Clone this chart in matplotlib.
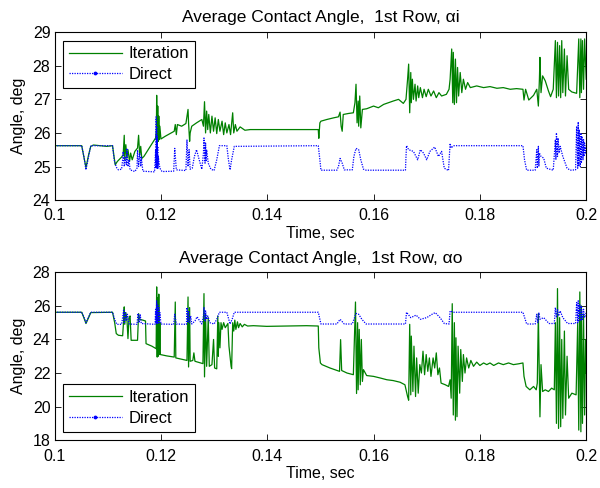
import matplotlib
matplotlib.use("Agg")
import matplotlib.pyplot as plt
from matplotlib.lines import Line2D

plt.rcParams['font.family'] = ['Liberation Sans', 'DejaVu Sans']

# ---------------- data: top panel (alpha i) ----------------
t_top_iter = [0.1000, 0.1051, 0.1055, 0.1059, 0.1064, 0.1068, 0.1073, 0.1086, 0.1098, 0.1109,
              0.1114, 0.1118, 0.1126, 0.1129, 0.1131, 0.1132, 0.1134, 0.1136, 0.1138, 0.1141,
              0.1143, 0.1146, 0.1151, 0.1156, 0.1158, 0.1160, 0.1162, 0.1164, 0.1168, 0.1180,
              0.1190, 0.11915, 0.1192, 0.1193, 0.1194, 0.1195, 0.1196, 0.1197, 0.1198, 0.1200,
              0.1208, 0.1217, 0.1225, 0.1227, 0.1229, 0.1231, 0.1239, 0.1247, 0.1251, 0.1252,
              0.1254, 0.1255, 0.1258, 0.1267, 0.1277, 0.1280, 0.1282, 0.1284, 0.1286, 0.1288,
              0.1290, 0.1293, 0.1296, 0.1299, 0.1302, 0.1305, 0.1308, 0.1311, 0.1315, 0.1318,
              0.1321, 0.1324, 0.1328, 0.1331, 0.1335, 0.1337, 0.1340, 0.1343, 0.1349, 0.1358,
              0.1368, 0.1496, 0.1497, 0.1499, 0.1501, 0.1512, 0.1525, 0.1534, 0.1537, 0.1539,
              0.1541, 0.1543, 0.1553, 0.1562, 0.1565, 0.1567, 0.1569, 0.1571, 0.1572, 0.1574,
              0.1576, 0.1579, 0.1587, 0.1600, 0.1609, 0.1619, 0.1628, 0.1637, 0.1647, 0.1656,
              0.1661, 0.1664, 0.1666, 0.1668, 0.1670, 0.1671, 0.1673, 0.1675, 0.1678, 0.1680,
              0.1683, 0.1685, 0.1688, 0.1692, 0.1695, 0.1699, 0.1703, 0.1708, 0.1713, 0.1718,
              0.1723, 0.1728, 0.1737, 0.1742, 0.1744, 0.1747, 0.1749, 0.1750, 0.1752, 0.1754,
              0.1756, 0.1758, 0.1760, 0.1763, 0.1766, 0.1769, 0.1773, 0.1777, 0.1782, 0.1794,
              0.1807, 0.1819, 0.1832, 0.1844, 0.1857, 0.1869, 0.1881, 0.1883, 0.1886, 0.1892,
              0.1901, 0.1907, 0.1910, 0.1912, 0.1913, 0.1915, 0.1918, 0.1923, 0.1929, 0.1933,
              0.1938, 0.1942, 0.1944, 0.1946, 0.1948, 0.1950, 0.1952, 0.1954, 0.1956, 0.1959,
              0.1961, 0.1964, 0.1967, 0.1973, 0.1982, 0.1986, 0.1988, 0.1990, 0.1991, 0.1993,
              0.1995, 0.1997, 0.1999, 0.2000]
v_top_iter = [25.62, 25.62, 25.30, 24.97, 25.35, 25.60, 25.64, 25.62, 25.60, 25.62,
              25.05, 25.15, 25.28, 25.35, 25.93, 25.20, 25.65, 25.25, 25.50, 25.15,
              25.40, 25.20, 25.45, 25.55, 25.93, 25.35, 25.60, 25.24, 25.30, 25.60,
              25.85, 26.10, 27.12, 25.70, 26.80, 25.75, 26.50, 25.80, 26.20, 25.82,
              25.90, 25.98, 26.05, 26.25, 25.95, 26.25, 26.20, 26.28, 26.70, 26.30,
              25.75, 26.00, 26.20, 26.30, 26.40, 26.20, 26.93, 26.00, 26.65, 26.10,
              26.55, 26.00, 26.50, 26.05, 26.45, 25.98, 26.40, 26.05, 26.35, 25.95,
              26.30, 26.00, 26.25, 25.95, 26.60, 26.00, 26.25, 26.05, 26.18, 26.08,
              26.10, 26.10, 25.84, 26.30, 26.35, 26.40, 26.45, 26.48, 26.62, 26.20,
              26.05, 26.55, 26.58, 26.60, 26.90, 27.45, 26.30, 26.95, 26.20, 27.10,
              26.15, 26.70, 26.72, 26.80, 26.75, 26.85, 26.90, 26.95, 27.00, 26.88,
              27.00, 27.60, 28.05, 26.60, 27.80, 26.90, 27.60, 27.00, 27.45, 26.95,
              27.40, 27.05, 27.35, 27.05, 27.30, 27.08, 27.30, 27.10, 27.25, 27.05,
              27.20, 27.10, 27.15, 27.30, 27.60, 28.50, 26.90, 28.40, 26.85, 28.20,
              26.90, 27.95, 27.10, 27.80, 27.20, 27.60, 27.30, 27.50, 27.35, 27.40,
              27.35, 27.38, 27.33, 27.35, 27.30, 27.32, 27.30, 26.98, 27.30, 26.98,
              27.12, 27.30, 26.80, 27.60, 28.25, 27.20, 27.70, 27.55, 27.25, 27.08,
              27.30, 28.75, 27.05, 28.70, 27.10, 28.60, 27.05, 28.75, 27.20, 28.50,
              27.10, 28.30, 27.30, 27.22, 27.18, 28.80, 27.05, 28.80, 27.20, 28.75,
              27.30, 28.80, 28.00, 27.60]

t_top_dir = [0.1000, 0.1051, 0.1055, 0.1059, 0.1064, 0.1068, 0.1109, 0.1112, 0.1116, 0.1120,
             0.1126, 0.1128, 0.1129, 0.1131, 0.1133, 0.1135, 0.1136, 0.1138, 0.1140, 0.1142,
             0.1151, 0.1155, 0.1156, 0.1158, 0.1160, 0.1162, 0.1163, 0.1166, 0.1188, 0.1190,
             0.11905, 0.1191, 0.11915, 0.1192, 0.11925, 0.1193, 0.11935, 0.1194, 0.11945, 0.1195,
             0.1198, 0.1202, 0.1224, 0.1226, 0.1229, 0.1247, 0.1249, 0.1251, 0.1253, 0.1255,
             0.1259, 0.1263, 0.1267, 0.1272, 0.1277, 0.1280, 0.1281, 0.1283, 0.1284, 0.1285,
             0.1286, 0.1289, 0.1294, 0.1300, 0.1305, 0.1310, 0.1324, 0.1327, 0.1330, 0.1333,
             0.1338, 0.1496, 0.1499, 0.1501, 0.1531, 0.1534, 0.1537, 0.1541, 0.1545, 0.1560,
             0.1563, 0.1567, 0.1572, 0.1576, 0.1581, 0.1586, 0.1660, 0.1661, 0.1662, 0.1666,
             0.1675, 0.1683, 0.1688, 0.1694, 0.1700, 0.1706, 0.1715, 0.1722, 0.1728, 0.1733,
             0.1741, 0.1744, 0.1746, 0.1750, 0.1881, 0.1884, 0.1888, 0.1904, 0.1907, 0.1908,
             0.1910, 0.1911, 0.1912, 0.1915, 0.1920, 0.1925, 0.1938, 0.1942, 0.1943, 0.1944,
             0.1946, 0.1947, 0.1949, 0.1951, 0.1956, 0.1964, 0.1970, 0.1980, 0.1982, 0.1984,
             0.1985, 0.1986, 0.1987, 0.1989, 0.1990, 0.1991, 0.1992, 0.1994, 0.1995, 0.1996,
             0.1997, 0.1999, 0.2000]
v_top_dir = [25.62, 25.62, 25.30, 24.90, 25.30, 25.62, 25.62, 25.20, 24.98, 24.90,
             24.92, 25.20, 25.44, 25.00, 25.30, 25.05, 25.54, 25.00, 25.20, 24.90,
             24.85, 24.95, 25.49, 25.00, 25.40, 25.00, 25.30, 24.86, 24.84, 25.50,
             24.95, 26.48, 24.95, 26.20, 24.95, 25.90, 24.95, 25.60, 24.95, 25.30,
             24.95, 24.85, 24.86, 25.54, 24.90, 24.88, 25.79, 25.00, 25.50, 24.92,
             24.95, 25.30, 25.50, 25.20, 24.92, 25.40, 25.85, 25.10, 25.70, 25.15,
             25.50, 25.10, 24.92, 24.88, 25.20, 25.62, 25.62, 25.20, 24.90, 25.20,
             25.60, 25.62, 25.20, 24.89, 24.89, 25.00, 25.24, 25.10, 24.90, 24.90,
             25.30, 25.54, 25.50, 25.20, 24.92, 24.89, 24.89, 25.30, 25.62, 25.50,
             25.45, 25.20, 25.50, 25.40, 25.20, 25.45, 25.58, 25.30, 25.45, 24.95,
             24.88, 25.69, 25.55, 25.62, 25.62, 25.20, 24.89, 24.89, 25.50, 24.95,
             25.60, 25.00, 25.40, 25.30, 25.25, 24.95, 24.89, 25.80, 25.20, 26.00,
             25.30, 25.85, 25.40, 25.60, 25.30, 24.95, 24.89, 24.90, 26.20, 24.95,
             26.33, 25.00, 26.10, 25.00, 26.00, 25.10, 25.90, 25.20, 25.80, 25.30,
             25.70, 25.40, 25.60]

# ---------------- data: bottom panel (alpha o) ----------------
t_bot_iter = [0.1000, 0.1051, 0.1055, 0.1059, 0.1064, 0.1068, 0.1109, 0.1113, 0.1116, 0.1120,
              0.1128, 0.1130, 0.1131, 0.1132, 0.1134, 0.1136, 0.1138, 0.1140, 0.1142, 0.1144,
              0.1156, 0.1158, 0.1160, 0.1166, 0.1171, 0.1172, 0.1183, 0.1191, 0.1192, 0.1193,
              0.1194, 0.1195, 0.1196, 0.1197, 0.1198, 0.1199, 0.1211, 0.1225, 0.1227, 0.1228,
              0.1249, 0.1251, 0.1252, 0.1254, 0.1255, 0.1260, 0.1262, 0.1264, 0.1279, 0.1281,
              0.1282, 0.1284, 0.1286, 0.1289, 0.1291, 0.1296, 0.1299, 0.1301, 0.1305, 0.1307,
              0.1308, 0.1309, 0.1311, 0.1313, 0.1315, 0.1318, 0.1321, 0.1326, 0.1328, 0.1332,
              0.1333, 0.1335, 0.1337, 0.1339, 0.1341, 0.1344, 0.1346, 0.1349, 0.1353, 0.1357,
              0.1363, 0.1374, 0.1399, 0.1437, 0.1474, 0.1496, 0.1497, 0.1500, 0.1503, 0.1518,
              0.1536, 0.1538, 0.1540, 0.1550, 0.1562, 0.1564, 0.1566, 0.1568, 0.1570, 0.1571,
              0.1573, 0.1575, 0.1577, 0.1579, 0.1581, 0.1587, 0.1600, 0.1613, 0.1625, 0.1637,
              0.1650, 0.1659, 0.1664, 0.1666, 0.1668, 0.1670, 0.1671, 0.1674, 0.1676, 0.1679,
              0.1681, 0.1684, 0.1687, 0.1690, 0.1693, 0.1696, 0.1699, 0.1702, 0.1705, 0.1708,
              0.1712, 0.1715, 0.1718, 0.1721, 0.1724, 0.1727, 0.1735, 0.1741, 0.1744, 0.1746,
              0.1748, 0.1750, 0.1752, 0.1754, 0.1755, 0.1757, 0.1759, 0.1762, 0.1764, 0.1767,
              0.1769, 0.1772, 0.1775, 0.1779, 0.1783, 0.1788, 0.1794, 0.1800, 0.1807, 0.1813,
              0.1819, 0.1826, 0.1835, 0.1844, 0.1854, 0.1863, 0.1873, 0.1881, 0.1883, 0.1887,
              0.1894, 0.1901, 0.1906, 0.1908, 0.1910, 0.1912, 0.1913, 0.1915, 0.1918, 0.1923,
              0.1929, 0.1935, 0.1940, 0.1942, 0.1944, 0.1946, 0.1948, 0.1950, 0.1952, 0.1954,
              0.1956, 0.1959, 0.1961, 0.1964, 0.1967, 0.1973, 0.1981, 0.1984, 0.1986, 0.1988,
              0.1990, 0.1991, 0.1993, 0.1995, 0.1997, 0.1999, 0.2000]
v_bot_iter = [25.62, 25.62, 25.30, 24.95, 25.30, 25.60, 25.62, 25.00, 24.35, 24.25,
              24.22, 25.20, 25.94, 24.90, 25.60, 25.25, 24.05, 25.30, 25.40, 23.95,
              23.95, 25.54, 25.20, 25.15, 25.10, 23.75, 23.60, 23.45, 27.13, 22.95,
              26.50, 23.00, 26.70, 23.10, 25.00, 23.10, 23.02, 22.95, 26.23, 22.90,
              22.75, 26.53, 22.36, 25.90, 22.70, 22.75, 23.20, 22.70, 22.56, 26.73,
              21.77, 25.50, 22.40, 25.30, 22.40, 22.50, 24.00, 22.30, 22.25, 25.40,
              23.00, 25.00, 23.50, 25.00, 24.60, 25.00, 24.70, 24.95, 23.60, 22.40,
              22.26, 25.00, 24.50, 25.15, 24.60, 25.05, 24.70, 24.95, 24.75, 24.90,
              24.80, 24.82, 24.78, 24.80, 24.82, 24.80, 23.50, 22.60, 22.50, 22.30,
              22.10, 23.99, 22.15, 22.00, 21.90, 24.00, 26.23, 20.78, 25.00, 21.00,
              24.60, 21.30, 24.00, 21.50, 22.20, 21.85, 21.80, 21.70, 21.60, 21.55,
              21.45, 21.30, 20.60, 20.38, 24.90, 20.70, 24.20, 20.90, 23.60, 20.60,
              22.90, 20.80, 22.50, 22.00, 23.30, 21.90, 23.10, 22.10, 22.90, 21.80,
              22.90, 22.30, 23.20, 21.90, 22.30, 21.40, 21.30, 21.20, 21.60, 20.50,
              26.13, 19.50, 25.00, 19.19, 24.10, 19.40, 23.60, 20.80, 23.40, 21.50,
              23.10, 22.00, 22.90, 22.30, 22.75, 22.40, 22.65, 22.45, 22.60, 22.50,
              22.60, 22.45, 22.60, 22.50, 22.60, 22.50, 22.55, 22.60, 21.80, 21.20,
              21.00, 21.20, 21.00, 21.40, 25.54, 21.50, 19.39, 22.50, 20.90, 21.00,
              20.90, 21.10, 21.00, 25.00, 19.00, 27.03, 18.70, 25.30, 18.80, 24.00,
              19.30, 24.50, 19.50, 23.00, 20.50, 20.80, 20.70, 25.00, 18.60, 26.83,
              18.50, 26.00, 19.00, 25.50, 19.50, 24.00, 22.00]

t_bot_dir = [0.1000, 0.1051, 0.1055, 0.1059, 0.1064, 0.1068, 0.1109, 0.1113, 0.1117, 0.1126,
             0.1128, 0.1130, 0.1131, 0.1133, 0.1135, 0.1137, 0.1140, 0.1155, 0.1157, 0.1159,
             0.1161, 0.1163, 0.1189, 0.1190, 0.1191, 0.1192, 0.1193, 0.1194, 0.1195, 0.1196,
             0.1197, 0.1198, 0.1200, 0.1224, 0.1226, 0.1229, 0.1248, 0.1249, 0.1251, 0.1252,
             0.1254, 0.1256, 0.1258, 0.1264, 0.1268, 0.1273, 0.1277, 0.1280, 0.1281, 0.1283,
             0.1284, 0.1286, 0.1288, 0.1292, 0.1300, 0.1305, 0.1310, 0.1324, 0.1330, 0.1334,
             0.1338, 0.1496, 0.1499, 0.1501, 0.1531, 0.1537, 0.1545, 0.1560, 0.1567, 0.1572,
             0.1578, 0.1586, 0.1660, 0.1662, 0.1670, 0.1680, 0.1688, 0.1700, 0.1710, 0.1716,
             0.1725, 0.1733, 0.1742, 0.1744, 0.1750, 0.1881, 0.1888, 0.1904, 0.1907, 0.1909,
             0.1911, 0.1913, 0.1920, 0.1930, 0.1940, 0.1942, 0.1944, 0.1946, 0.1948, 0.1951,
             0.1956, 0.1965, 0.1980, 0.1982, 0.1984, 0.1985, 0.1986, 0.1988, 0.1990, 0.1991,
             0.1993, 0.1995, 0.1997, 0.2000]
v_bot_dir = [25.62, 25.62, 25.35, 25.00, 25.35, 25.62, 25.62, 25.20, 24.90, 24.90,
             25.30, 25.80, 25.00, 25.60, 25.10, 25.50, 24.92, 24.90, 25.55, 25.00,
             25.50, 24.95, 24.90, 25.80, 24.95, 26.30, 24.95, 26.10, 25.00, 25.90,
             25.00, 25.60, 24.92, 24.90, 25.50, 24.92, 24.90, 25.90, 25.00, 25.70,
             25.00, 25.40, 24.92, 25.10, 25.35, 25.10, 24.92, 25.40, 25.90, 25.10,
             25.70, 25.20, 25.40, 25.00, 24.92, 25.20, 25.62, 25.62, 24.92, 25.20,
             25.62, 25.62, 25.20, 24.92, 24.92, 25.20, 24.92, 24.92, 25.55, 25.50,
             25.20, 24.92, 24.92, 25.62, 25.30, 25.45, 25.20, 25.30, 25.50, 25.60,
             25.30, 24.95, 24.92, 25.70, 25.62, 25.62, 24.92, 24.92, 25.50, 25.00,
             25.60, 25.20, 25.30, 24.95, 24.95, 25.90, 25.30, 25.80, 25.40, 25.70,
             25.30, 24.95, 24.95, 26.20, 25.00, 26.30, 25.10, 26.10, 25.10, 26.00,
             25.20, 25.80, 25.30, 25.60]

titles = ["Average Contact Angle,  1st Row, \u03b1i", "Average Contact Angle,  1st Row, \u03b1o"]
series_names = ["Iteration", "Direct"]
x_ticks = [0.1, 0.12, 0.14, 0.16, 0.18, 0.2]
x_ticklabels = ["0.1", "0.12", "0.14", "0.16", "0.18", "0.2"]
y_ticks_top = [24, 25, 26, 27, 28, 29]
y_ticks_bot = [18, 20, 22, 24, 26, 28]

GREEN = "#008000"
BLUE = "#0000ff"
FS = 11.5

fig = plt.figure(figsize=(6.0, 4.88), dpi=100)
ax1 = fig.add_axes([0.091, 0.590, 0.886, 0.344])
ax2 = fig.add_axes([0.091, 0.098, 0.886, 0.344])

panels = [
    (ax1, t_top_iter, v_top_iter, t_top_dir, v_top_dir, titles[0], (24, 29), y_ticks_top, "upper left"),
    (ax2, t_bot_iter, v_bot_iter, t_bot_dir, v_bot_dir, titles[1], (18, 28), y_ticks_bot, "lower left"),
]

for ax, ti, vi, td, vd, title, ylim, yt, loc in panels:
    ax.plot(ti, vi, color=GREEN, lw=0.9)
    ax.plot(td, vd, color=BLUE, lw=0.9, ls=(0, (1, 1)))
    ax.set_xlim(0.1, 0.2)
    ax.set_ylim(*ylim)
    ax.set_xticks(x_ticks)
    ax.set_xticklabels(x_ticklabels)
    ax.set_yticks(yt)
    ax.tick_params(direction="in", top=True, right=True, labelsize=FS, length=4.5, width=0.6)
    ax.tick_params(axis="x", pad=6)
    ax.tick_params(axis="y", pad=3)
    for s in ax.spines.values():
        s.set_linewidth(0.8)
    ax.set_title(title, fontsize=12.5, pad=7)
    ax.set_xlabel("Time, sec", fontsize=FS, labelpad=2)
    ax.set_ylabel("Angle, deg", fontsize=FS, labelpad=5)
    h = [Line2D([0], [0], color=GREEN, lw=0.9),
         Line2D([0, 0.5, 1], [0, 0, 0], color=BLUE, lw=0.9, ls=(0, (1, 1)), marker=".",
                markersize=3.5, markevery=[1])]
    leg = ax.legend(h, series_names, loc=loc, fontsize=FS + 0.5, fancybox=False,
                    edgecolor="black", framealpha=1, borderpad=0.35, handlelength=3.2,
                    handletextpad=0.4, labelspacing=0.35, borderaxespad=0.5)
    leg.get_frame().set_linewidth(0.8)

fig.savefig("out.png", dpi=100)
